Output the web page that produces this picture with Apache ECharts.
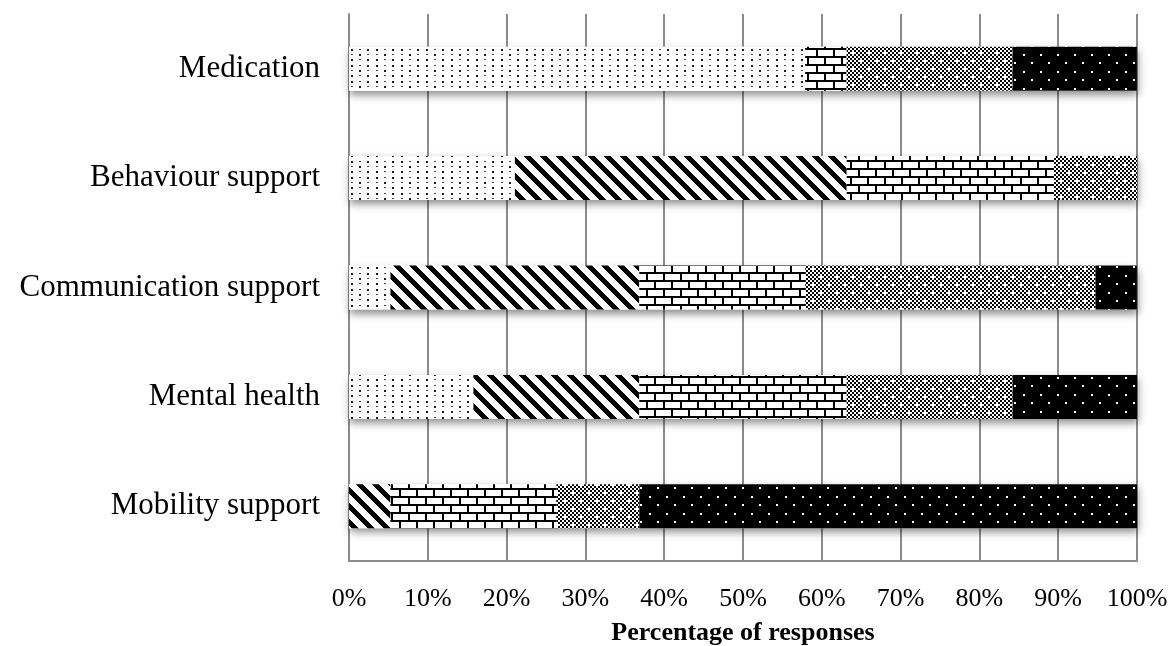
<!DOCTYPE html>
<html>
<head>
<meta charset="utf-8">
<script src="https://cdn.jsdelivr.net/npm/echarts@6/dist/echarts.min.js"></script>
<style>
  html, body { margin: 0; padding: 0; background: #fff; }
  #chart { width: 1171px; height: 646px; }
</style>
</head>
<body>
<div id="chart"></div>
<script>
// Support areas, listed top to bottom
const categories = ['Medication', 'Behaviour support', 'Communication support', 'Mental health', 'Mobility support'];

// Share of responses (%) for each response group
const seriesNames = ['Response 1', 'Response 2', 'Response 3', 'Response 4', 'Response 5'];
const response1 = [57.89, 21.05, 5.26, 15.79, 0];
const response2 = [0, 42.11, 31.58, 21.05, 5.26];
const response3 = [5.26, 26.32, 21.05, 26.32, 21.05];
const response4 = [21.05, 10.53, 36.84, 21.05, 10.53];
const response5 = [15.79, 0, 5.26, 15.79, 63.16];

const xTicks = [0, 10, 20, 30, 40, 50, 60, 70, 80, 90, 100];

// Build a repeating monochrome tile from a pixel function returning a grey level
function makeTile(w, h, fn) {
  const c = document.createElement('canvas');
  c.width = w; c.height = h;
  const ctx = c.getContext('2d');
  const img = ctx.createImageData(w, h);
  for (let y = 0; y < h; y++) {
    for (let x = 0; x < w; x++) {
      const v = fn(x, y);
      const i = (y * w + x) * 4;
      img.data[i] = v; img.data[i + 1] = v; img.data[i + 2] = v; img.data[i + 3] = 255;
    }
  }
  ctx.putImageData(img, 0, 0);
  return { image: c, repeat: 'repeat' };
}

// Sparse dots on white, rows alternating between round dots and short dashes
const dotFill = makeTile(25, 16, (x, y) => {
  const xs = [1, 9, 17], ys = [1, 6, 11];
  for (let j = 0; j < ys.length; j++) {
    for (let i = 0; i < xs.length; i++) {
      const dx = xs[i], dy = ys[j];
      const dash = (i + j) % 2 === 1;
      if (dash) {
        if (x >= dx && x < dx + 2 && y === dy) return 70;
      } else if (x >= dx && x < dx + 2 && y >= dy && y < dy + 2) {
        return 30;
      }
    }
  }
  return 255;
});

// Wide black diagonal stripes
const stripeFill = makeTile(16, 16, (x, y) => {
  const d = ((x - y) % 16 + 16) % 16;
  return d < 7 ? 0 : 255;
});

// Brick wall
const brickFill = makeTile(17, 16, (x, y) => {
  const ry = y % 8;
  if (ry < 2) return 0;
  if (y < 8) return x < 2 ? 0 : 255;
  return (x >= 8 && x < 10) ? 0 : 255;
});

// Small checker with white spots
const checkFill = makeTile(16, 16, (x, y) => {
  if (x >= 4 && x < 6 && y >= 4 && y < 6) return 255;
  if (x >= 12 && x < 14 && y >= 12 && y < 14) return 255;
  return (((x >> 1) + (y >> 1)) % 2 === 0) ? 0 : 255;
});

// Black with white dots
const blackDotFill = makeTile(17, 17, (x, y) => {
  if (x >= 3 && x < 5 && y >= 3 && y < 5) return 255;
  if (x >= 11 && x < 13 && y >= 11 && y < 13) return 255;
  return 0;
});

const fills = [dotFill, stripeFill, brickFill, checkFill, blackDotFill];
const values = [response1, response2, response3, response4, response5];

// Full-length bar under each row carrying the drop shadow
const rowTotals = categories.map((_, i) => values.reduce((s, arr) => s + arr[i], 0));

const FONT = '"Liberation Serif", "Times New Roman", serif';

const series = [{
  name: 'shadow',
  type: 'bar',
  data: rowTotals,
  barWidth: 44,
  barGap: '-100%',
  silent: true,
  z: 1,
  itemStyle: {
    color: '#ffffff',
    shadowColor: 'rgba(0,0,0,0.45)',
    shadowBlur: 8,
    shadowOffsetY: 4,
    shadowOffsetX: 1
  }
}];

seriesNames.forEach((name, k) => {
  series.push({
    name: name,
    type: 'bar',
    stack: 'total',
    data: values[k],
    barWidth: 44,
    barGap: '-100%',
    z: 2,
    itemStyle: { color: fills[k] }
  });
});

const chart = echarts.init(document.getElementById('chart'), null, { renderer: 'canvas' });
chart.setOption({
  animation: false,
  backgroundColor: '#ffffff',
  grid: { left: 349, right: 34, top: 14, bottom: 85, containLabel: false, outerBoundsMode: 'none' },
  xAxis: {
    type: 'value',
    min: 0,
    max: 100,
    interval: 10,
    name: 'Percentage of responses',
    nameLocation: 'middle',
    nameGap: 59,
    nameTextStyle: { fontFamily: FONT, fontSize: 26, fontWeight: 'bold', color: '#000' },
    axisLine: { show: true, lineStyle: { color: '#8c8c8c', width: 2 } },
    axisTick: { show: false },
    axisLabel: {
      fontFamily: FONT, fontSize: 26, color: '#000', margin: 25,
      formatter: v => (xTicks.indexOf(v) >= 0 ? v + '%' : '')
    },
    splitLine: { show: true, lineStyle: { color: '#8c8c8c', width: 2 } }
  },
  yAxis: {
    type: 'category',
    data: categories,
    inverse: true,
    axisLine: { show: true, lineStyle: { color: '#8c8c8c', width: 2 } },
    axisTick: { show: false },
    axisLabel: { fontFamily: FONT, fontSize: 31, color: '#000', margin: 29, padding: [6, 0, 0, 0] },
    splitLine: { show: false }
  },
  series: series
});
</script>
</body>
</html>
